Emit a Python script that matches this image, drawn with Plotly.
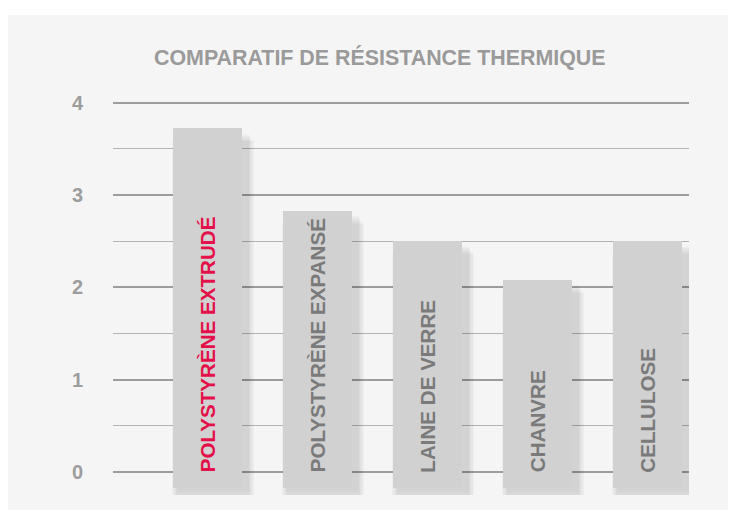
import plotly.graph_objects as go

categories = ["POLYSTYRÈNE EXTRUDÉ", "POLYSTYRÈNE EXPANSÉ", "LAINE DE VERRE", "CHANVRE", "CELLULOSE"]
values = [3.72, 2.83, 2.50, 2.08, 2.50]
label_colors = ["#e4104a", "#7a7a7a", "#7a7a7a", "#7a7a7a", "#7a7a7a"]
tick_vals = [0, 1, 2, 3, 4]
title_text = "COMPARATIF DE RÉSISTANCE THERMIQUE"

BASE = -0.17
BAR_W = 0.627
xs = list(range(len(categories)))

W, H = 735, 512
ML, MR, MT, MB = 113, 46, 98, 17
PW, PH = W - ML - MR, H - MT - MB
FONT = "Liberation Sans"

def px2xp(px):
    return (px - ML) / PW

def py2yp(py):
    return (H - MB - py) / PH

fig = go.Figure()

# soft shadow layers
for k in range(1, 6):
    fig.add_trace(go.Bar(
        x=[x + 0.05 for x in xs],
        y=[v - BASE + 0.01 * k - 0.02 for v in values],
        base=[BASE - 0.03 * k - 0.02] * len(values),
        width=BAR_W + 0.024 * k,
        marker=dict(color="rgba(0,0,0,0.026)", line=dict(width=0)),
        hoverinfo="skip", showlegend=False,
    ))

fig.add_trace(go.Bar(
    x=xs,
    y=[v - BASE for v in values],
    base=[BASE] * len(values),
    width=BAR_W,
    marker=dict(color="#d1d1d1", line=dict(width=0)),
    showlegend=False,
))

annotations = []
for i, (c, col) in enumerate(zip(categories, label_colors)):
    annotations.append(dict(
        x=xs[i], y=-0.03, xref="x", yref="y", text="<b>%s</b>" % c,
        textangle=-90, showarrow=False, yanchor="bottom", xanchor="center",
        font=dict(family=FONT, size=20.6, color=col),
    ))

annotations.append(dict(
    x=px2xp(380), y=py2yp(57), xref="paper", yref="paper",
    text="<b>%s</b>" % title_text, showarrow=False,
    xanchor="center", yanchor="middle",
    font=dict(family=FONT, size=21.4, color="#9a9a9a"),
))

shapes = [dict(
    type="rect", xref="paper", yref="paper", layer="below",
    x0=px2xp(8), x1=px2xp(728), y0=py2yp(510), y1=py2yp(15),
    fillcolor="#f5f5f5", line=dict(width=0),
)]

fig.update_layout(
    width=W, height=H,
    margin=dict(l=ML, r=MR, t=MT, b=MB, pad=0),
    paper_bgcolor="#ffffff",
    plot_bgcolor="rgba(0,0,0,0)",
    barmode="overlay",
    bargap=0,
    annotations=annotations,
    shapes=shapes,
    xaxis=dict(
        range=[-0.859, 4.377], showgrid=False, zeroline=False,
        showticklabels=False, showline=False, fixedrange=True,
    ),
    yaxis=dict(
        range=[-0.25, 4.05], tickvals=tick_vals,
        ticktext=["<b>%d</b>" % t for t in tick_vals],
        showgrid=True, gridcolor="#9d9d9d", gridwidth=2,
        zeroline=False, showline=False,
        tickfont=dict(family=FONT, size=20, color="#9d9d9d"),
        ticklabelstandoff=29,
        minor=dict(dtick=0.5, tick0=0, showgrid=True, gridcolor="#b3b3b3", gridwidth=1),
    ),
)

fig.write_html(
    "out.html",
    config={"displayModeBar": False},
    post_script="document.body.style.margin='0';document.body.style.overflow='hidden';",
)
